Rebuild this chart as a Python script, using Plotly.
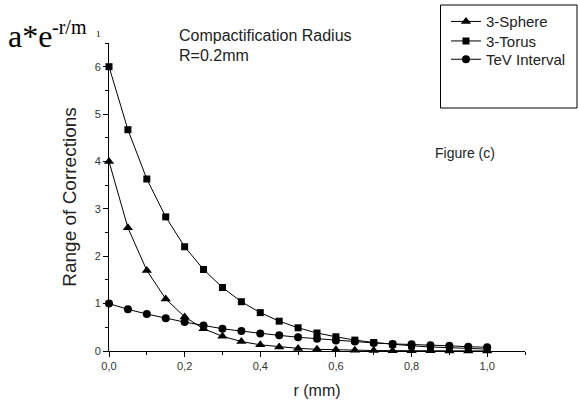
import plotly.graph_objects as go

r_mm = [0.0, 0.05, 0.1, 0.15, 0.2, 0.25, 0.3, 0.35, 0.4, 0.45, 0.5,
        0.55, 0.6, 0.65, 0.7, 0.75, 0.8, 0.85, 0.9, 0.95, 1.0]
sphere = [4.0, 2.6, 1.7, 1.1, 0.72, 0.47, 0.31, 0.2, 0.13, 0.085, 0.055,
          0.036, 0.024, 0.015, 0.01, 0.007, 0.004, 0.003, 0.002, 0.001, 0.001]
torus = [6.0, 4.67, 3.63, 2.83, 2.2, 1.72, 1.34, 1.04, 0.81, 0.63, 0.49,
         0.38, 0.30, 0.23, 0.18, 0.14, 0.11, 0.085, 0.066, 0.052, 0.04]
tev = [1.0, 0.88, 0.78, 0.69, 0.61, 0.54, 0.47, 0.42, 0.37, 0.33, 0.29,
       0.26, 0.22, 0.20, 0.17, 0.15, 0.14, 0.12, 0.11, 0.09, 0.08]
x_ticks = [0.0, 0.2, 0.4, 0.6, 0.8, 1.0]
y_ticks = [0, 1, 2, 3, 4, 5, 6]

W, H = 578, 405
L, R, T, B = 109, 53, 43, 54
pw, ph = W - L - R, H - T - B

def px(x):
    return (x - L) / pw

def py(y):
    return (H - B - y) / ph

series = [
    ("3-Sphere", sphere, "triangle-up", 9, "legend", 21.7),
    ("3-Torus", torus, "square", 7, "legend2", 41.2),
    ("TeV Interval", tev, "circle", 8, "legend3", 59.5),
]

fig = go.Figure()
legend_layouts = {}
for name, vals, sym, sz, leg, ly in series:
    fig.add_trace(go.Scatter(
        x=r_mm, y=vals, name=name, mode="lines+markers",
        line=dict(color="black", width=1),
        marker=dict(symbol=sym, size=sz, color="black"),
        cliponaxis=False, legend=leg,
    ))
    legend_layouts[leg] = dict(
        x=px(446), y=py(ly), xanchor="left", yanchor="middle",
        bgcolor="rgba(0,0,0,0)", borderwidth=0,
        font=dict(size=15, color="#222"),
    )

axis_common = dict(
    showline=True, linecolor="black", linewidth=1, mirror=False,
    showgrid=False, zeroline=False, ticks="outside", ticklen=5,
    tickcolor="black", tickwidth=1, automargin=False,
    tickfont=dict(family="Arial, Liberation Sans", size=11, color="#333"),
)

fig.update_layout(
    width=W, height=H,
    margin=dict(l=L, r=R, t=T, b=B, pad=0, autoexpand=False),
    paper_bgcolor="white", plot_bgcolor="white",
    separators=",.",
    font=dict(family="Arial, Liberation Sans", color="black"),
    xaxis=dict(
        range=[0, 1.1], tickvals=x_ticks, tickformat=".1f",
        minor=dict(dtick=0.1, tick0=0, ticks="outside", ticklen=3, tickcolor="black"),
        title=dict(text="r (mm)", font=dict(size=16, color="#222"), standoff=13),
        **axis_common,
    ),
    yaxis=dict(
        range=[0, 6.5], tickvals=y_ticks,
        minor=dict(dtick=0.5, tick0=0, ticks="outside", ticklen=3, tickcolor="black"),
        title=dict(text="Range of Corrections", font=dict(size=19, color="#222"), standoff=13),
        **axis_common,
    ),
    showlegend=True,
    **legend_layouts,
)

fig.add_shape(type="rect", xref="paper", yref="paper",
              x0=px(440.5), x1=px(577), y0=py(108), y1=py(5),
              line=dict(color="black", width=1), fillcolor="rgba(0,0,0,0)")

serif = "Liberation Serif, Times New Roman, serif"
anns = [
    dict(text="a*e", x=px(6), y=py(36), font=dict(family=serif, size=32, color="black")),
    dict(text="-r/m", x=px(50), y=py(27), font=dict(family=serif, size=20, color="black")),
    dict(text="1", x=px(94), y=py(34), font=dict(family=serif, size=9, color="black")),
    dict(text="Compactification Radius", x=px(177), y=py(35), font=dict(size=16, color="#222")),
    dict(text="R=0.2mm", x=px(177), y=py(55), font=dict(size=16, color="#222")),
    dict(text="Figure (c)", x=px(433), y=py(153), font=dict(size=14, color="#222")),
]
for a in anns:
    fig.add_annotation(xref="paper", yref="paper", xanchor="left", yanchor="middle",
                       showarrow=False, **a)

fig.write_html("out.html", config={"displayModeBar": False},
               post_script="document.body.style.margin='0';document.body.style.padding='0';")
